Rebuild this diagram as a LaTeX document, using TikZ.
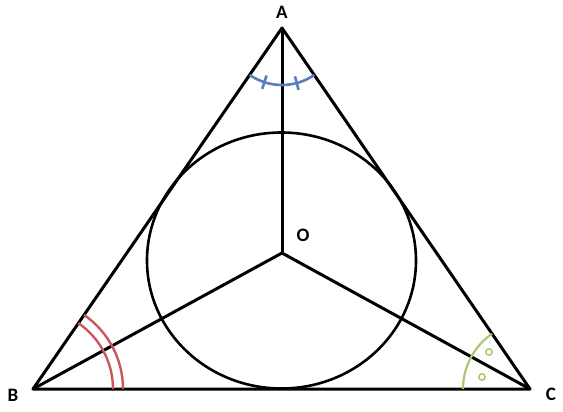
\documentclass[tikz,border=0pt]{standalone}
\usepackage{fontspec}
\setmainfont{Carlito}
\usetikzlibrary{calc}
\begin{document}
\begin{tikzpicture}[x=1pt,y=-1pt,
  side/.style={line width=3pt,line join=round},
  lbl/.style={font=\bfseries\fontsize{19}{19}\selectfont},
  markA/.style={draw=blueA,line width=2.6pt},
  markB/.style={draw=redB,line width=2.4pt},
  markC/.style={draw=greenC,line width=2.2pt}]
\definecolor{blueA}{RGB}{90,125,190}
\definecolor{redB}{RGB}{205,85,95}
\definecolor{greenC}{RGB}{170,200,110}
\useasboundingbox (0,0) rectangle (563,412);
\coordinate (A) at (282,28);
\coordinate (B) at (33,389);
\coordinate (C) at (530,389);
\coordinate (O) at (282,253);
% incircle
\draw[line width=2.6pt] (281.5,260.5) ellipse [x radius=134.5, y radius=128];
% triangle
\draw[side] (A) -- (B) -- (C) -- cycle;
% bisectors
\draw[side] (O) -- (A);
\draw[side] (O) -- (B);
\draw[side] (O) -- (C);
% angle mark at A
\draw[markA] ($(A)+(55.5:57)$) arc[start angle=55.5, end angle=124.6, radius=57];
\draw[markA] ($(A)+(75:50)$) -- ($(A)+(75:64)$);
\draw[markA] ($(A)+(108:50)$) -- ($(A)+(108:64)$);
% angle marks at B
\draw[markB] ($(B)+(0:80)$) arc[start angle=0, end angle=-55.4, radius=80];
\draw[markB] ($(B)+(0:90)$) arc[start angle=0, end angle=-55.4, radius=90];
% angle mark at C
\draw[markC] ($(C)+(180:67)$) arc[start angle=180, end angle=235.5, radius=67];
\draw[greenC,line width=1.5pt] (489,352) circle[radius=3.2];
\draw[greenC,line width=1.5pt] (482,377) circle[radius=3.2];
% labels
\node[lbl] (lA) at (282,12) {A};
\node[lbl] (lB) at (13,395) {B};
\node[lbl] (lC) at (551,394) {C};
\node[lbl] (lO) at (303,235) {O};
\end{tikzpicture}
\end{document}
